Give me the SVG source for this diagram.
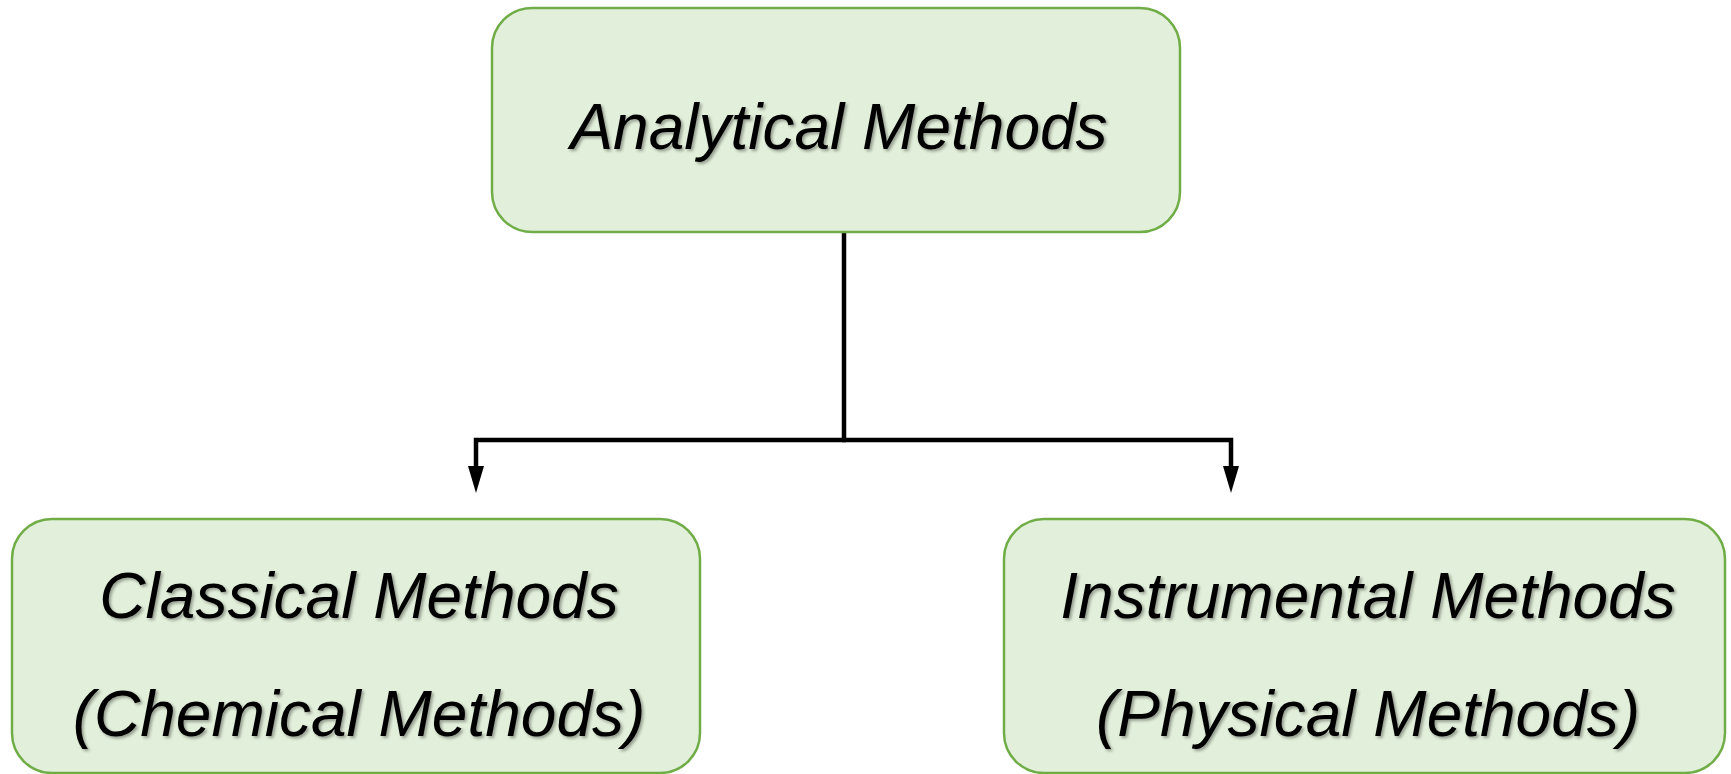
<svg xmlns="http://www.w3.org/2000/svg" width="1731" height="774" viewBox="0 0 1731 774">
  <defs>
    <style>
      .box { fill: #E2EFDA; stroke: #70AD47; stroke-width: 2.5; }
      .lbl { font-family: "Liberation Sans", Arial, sans-serif; font-style: italic; font-size: 64px; fill: #000; text-anchor: middle; filter: url(#shadow); }
      .conn { fill: none; stroke: #000; stroke-width: 4.5; stroke-linejoin: miter; }
    </style>
    <filter id="shadow" x="-10%" y="-30%" width="120%" height="160%">
      <feDropShadow dx="2" dy="2" stdDeviation="1.5" flood-color="#000" flood-opacity="0.35"/>
    </filter>
    <marker id="arrow" markerUnits="userSpaceOnUse" markerWidth="27" markerHeight="16" viewBox="0 0 27 16" refX="0" refY="8" orient="auto">
      <path d="M0,0 L27,8 L0,16 z" fill="#000"/>
    </marker>
  </defs>
  <rect width="1731" height="774" fill="#fff"/>
  <g id="connectors">
    <path class="conn" d="M844,232 V440"/>
    <path class="conn" d="M846,440 H476 V466" marker-end="url(#arrow)"/>
    <path class="conn" d="M842,440 H1231 V466" marker-end="url(#arrow)"/>
  </g>
  <g id="node-analytical">
    <rect class="box" x="492" y="8" width="688" height="224" rx="40" ry="40"/>
    <text class="lbl" x="839" y="149">Analytical Methods</text>
  </g>
  <g id="node-classical">
    <rect class="box" x="12" y="519" width="688" height="254" rx="40" ry="40"/>
    <text class="lbl" x="359" y="618">Classical Methods</text>
    <text class="lbl" x="359" y="736">(Chemical Methods)</text>
  </g>
  <g id="node-instrumental">
    <rect class="box" x="1004" y="519" width="721" height="254" rx="40" ry="40"/>
    <text class="lbl" x="1368" y="618">Instrumental Methods</text>
    <text class="lbl" x="1368" y="736">(Physical Methods)</text>
  </g>
</svg>
